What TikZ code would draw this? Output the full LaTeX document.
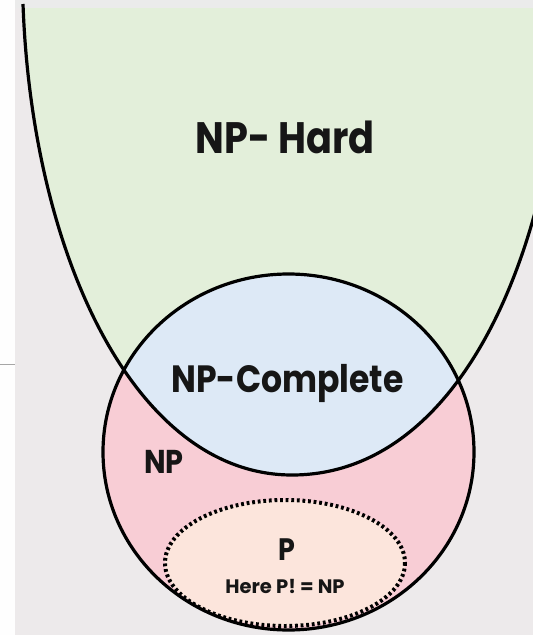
\documentclass[tikz,border=0pt]{standalone}
\usepackage{fontspec}
\setmainfont{Poppins}
\newfontfamily\narrowpop[FakeStretch=0.87]{Poppins}

\definecolor{bgGray}{HTML}{EDEAEB}
\definecolor{topGray}{HTML}{EBEBEB}
\definecolor{hardGreen}{HTML}{E3EFDA}
\definecolor{compBlue}{HTML}{DDE9F6}
\definecolor{npPink}{HTML}{F8CDD5}
\definecolor{pPeach}{HTML}{FCE5DC}
\definecolor{inkDark}{HTML}{161616}

% outline of the NP-hard region (a deep U shape)
\newcommand{\hardcurve}{(23,4) .. controls (32,255) and (135,475) .. (292,475)
  .. controls (458,475) and (557,255) .. (565,4)}
% outline of the NP class
\newcommand{\npcircle}{(288.5,452) ellipse [x radius=185.5, y radius=178]}

\tikzset{
  border/.style={draw=black, line width=3.2pt},
  setlabel/.style={anchor=base, text=inkDark, inner sep=0pt},
  pborder/.style={draw=black, line width=4pt, dash pattern=on 2.8pt off 2.8pt},
}

\begin{document}
\begin{tikzpicture}[x=1pt, y=-1pt]
  \useasboundingbox (0,0) rectangle (533,635);
  \clip (0,0) rectangle (533,635);

  % page background
  \fill[bgGray] (0,0) rectangle (533,635);
  \fill[topGray] (15,0) rectangle (533,8);
  \fill[white!96!bgGray] (0,0) rectangle (15,635);
  \draw[gray!70, line width=1pt] (0,364) -- (15,364);

  % NP-hard fill
  \begin{scope}
    \clip (0,8) rectangle (533,635);
    \fill[hardGreen] \hardcurve -- (565,-20) -- (23,-20) -- cycle;
  \end{scope}

  % NP fill
  \fill[npPink] \npcircle;

  % NP-complete = NP inside NP-hard
  \begin{scope}
    \clip \hardcurve -- (565,-20) -- (23,-20) -- cycle;
    \fill[compBlue] \npcircle;
  \end{scope}

  % P region
  \fill[pPeach] (285,563) ellipse [x radius=120, y radius=63];
  \draw[pborder] (285,563) ellipse [x radius=120, y radius=63];

  % outlines
  \draw[border] \hardcurve;
  \draw[border] \npcircle;

  % labels
  \node[setlabel, font=\narrowpop\bfseries\fontsize{44}{44}\selectfont] (hard) at (285,153) {NP- Hard};
  \node[setlabel, font=\narrowpop\bfseries\fontsize{38}{38}\selectfont] (complete) at (287.5,392) {NP-Complete};
  \node[setlabel, font=\narrowpop\bfseries\fontsize{33}{33}\selectfont] (np) at (164,473) {NP};
  \node[setlabel, font=\narrowpop\bfseries\fontsize{31}{31}\selectfont] (p) at (286.5,560) {P};
  \node[setlabel, font=\bfseries\fontsize{19.5}{19.5}\selectfont] (note) at (285,593) {Here P! = NP};
\end{tikzpicture}
\end{document}
